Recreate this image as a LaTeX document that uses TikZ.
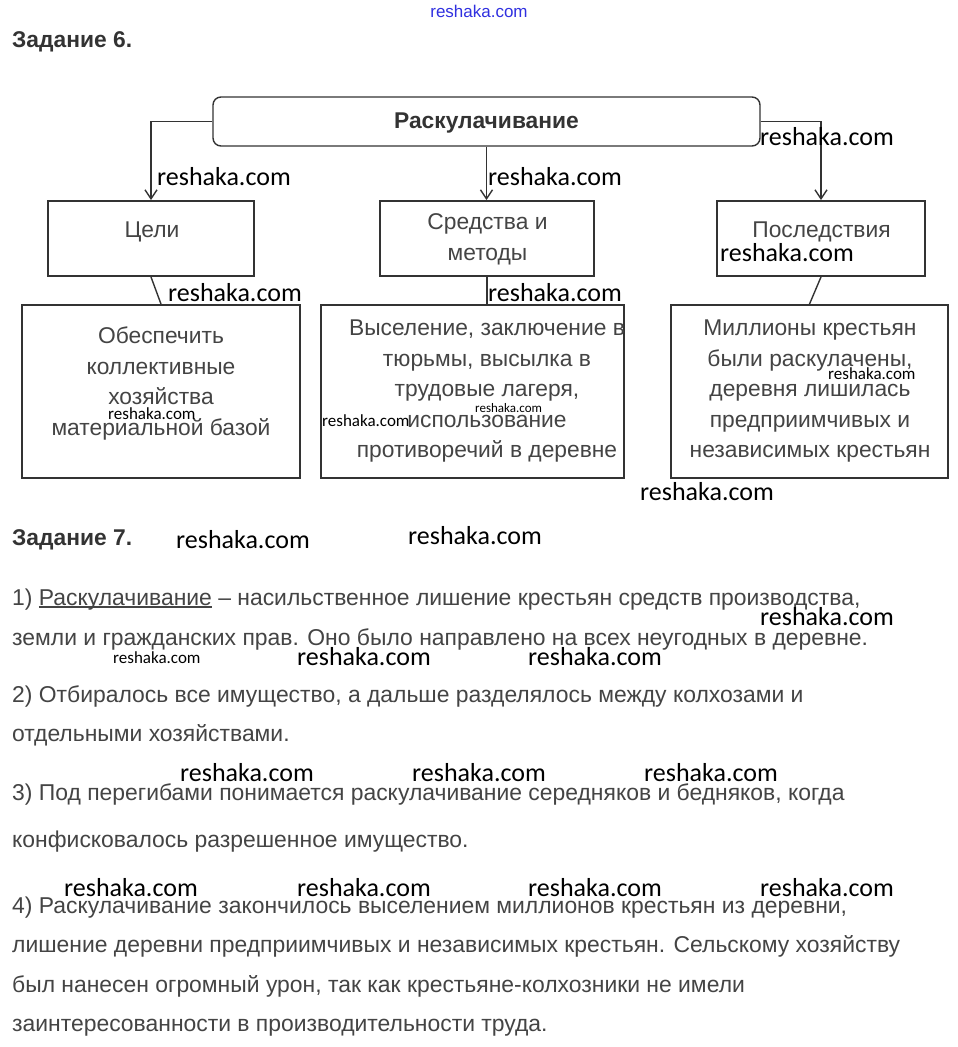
\documentclass[tikz,border=0pt]{standalone}
\usepackage{fontspec}
\setmainfont{Liberation Sans}
\newfontfamily\wmfont{Carlito}
\newfontfamily\topwmfont{Liberation Sans}
\usetikzlibrary{arrows.meta}
\definecolor{txtc}{HTML}{444444}
\definecolor{headc}{HTML}{333333}
\definecolor{linec}{HTML}{333333}
\definecolor{wmblue}{HTML}{3030E0}
\newcommand\myul[1]{\leavevmode\setbox0\hbox{#1}\rlap{\rule[-2.6pt]{\wd0}{1.2pt}}\box0\relax}
\begin{document}
\begin{tikzpicture}[x=1pt,y=-1pt,
  rbox/.style={draw=linec, line width=1.4pt, rounded corners=8pt, inner sep=0pt},
  tbox/.style={draw=linec, line width=1.9pt, inner sep=0pt},
  conn/.style={draw=linec, line width=1.4pt},
  arr/.style={conn, -{Straight Barb[length=9pt,width=12pt,line width=1.4pt]}},
  lbl/.style={text=txtc, font=\fontsize{22.8}{30.5}\selectfont, inner sep=0pt, align=center, anchor=base},
  head/.style={text=headc, font=\fontsize{22.8}{26}\selectfont\bfseries, inner sep=0pt, anchor=base west},
  para/.style={text=txtc, font=\fontsize{22.9}{26}\selectfont, inner sep=0pt, anchor=base west},
  wm/.style={text=black, font=\wmfont\fontsize{26}{30}\selectfont, inner sep=0pt, anchor=base west},
  wms/.style={text=black, font=\wmfont\fontsize{17}{20}\selectfont, inner sep=0pt, anchor=base west},
  wmt/.style={text=black, font=\wmfont\fontsize{13}{16}\selectfont, inner sep=0pt, anchor=base west}
]
\useasboundingbox[fill=white] (0,0) rectangle (958,1047);

% top blue watermark
\node[text=wmblue, font=\topwmfont\fontsize{17}{20}\selectfont, inner sep=0pt, anchor=base] (wm0) at (479,17) {reshaka.com};

% heading
\node[head] (h6) at (12,47) {Задание 6.};

% top box
\node[rbox, minimum width=547pt, minimum height=49pt] (root) at (486.5,121.5) {};
\node[lbl, font=\fontsize{22.8}{30.5}\selectfont\bfseries, text=headc] (root-t) at (486.5,128) {Раскулачивание};

% second row
\node[tbox, minimum width=206pt, minimum height=75pt] (goals) at (151,238.5) {};
\node[tbox, minimum width=214pt, minimum height=75pt] (means) at (487,238.5) {};
\node[tbox, minimum width=208pt, minimum height=75pt] (cons) at (821,238.5) {};
\node[lbl] (goals-t) at (152,237) {Цели};
\node[lbl] (means-t) at (487.5,260) {Средства и\\методы};
\node[lbl] (cons-t) at (821.5,237) {Последствия};

% third row
\node[tbox, minimum width=278pt, minimum height=173pt] (d1) at (161,391.5) {};
\node[tbox, minimum width=303pt, minimum height=173pt] (d2) at (472.5,391.5) {};
\node[tbox, minimum width=277pt, minimum height=173pt] (d3) at (809.5,391.5) {};
\node[lbl] (d1-t) at (161,435) {Обеспечить\\коллективные\\хозяйства\\материальной базой};
\node[lbl] (d2-t) at (487,457.5) {Выселение, заключение в\\тюрьмы, высылка в\\трудовые лагеря,\\использование\\противоречий в деревне};
\node[lbl] (d3-t) at (810,457.5) {Миллионы крестьян\\были раскулачены,\\деревня лишилась\\предприимчивых и\\независимых крестьян};

% connectors
\draw[arr] (root.west) -| (goals.north);
\draw[arr] (root.south) -- (root.south |- means.north);
\draw[arr] (root.east) -| (cons.north);
\draw[conn] (goals.south) -- (d1.north);
\draw[conn] (means.south) -- (means.south |- d2.north);
\draw[conn] (cons.south) -- (d3.north);

% task 7
\node[head] (h7) at (12,545) {Задание 7.};
\node[para] (p1) at (12,605) {1) \myul{Раскулачивание} – насильственное лишение крестьян средств производства,};
\node[para] (p2) at (12,645) {земли и гражданских прав. Оно было направлено на всех неугодных в деревне.};
\node[para] (p3) at (12,702) {2) Отбиралось все имущество, а дальше разделялось между колхозами и};
\node[para] (p4) at (12,741) {отдельными хозяйствами.};
\node[para] (p5) at (12,800) {3) Под перегибами понимается раскулачивание середняков и бедняков, когда};
\node[para] (p6) at (12,847) {конфисковалось разрешенное имущество.};
\node[para] (p7) at (12,913) {4) Раскулачивание закончилось выселением миллионов крестьян из деревни,};
\node[para] (p8) at (12,952) {лишение деревни предприимчивых и независимых крестьян. Сельскому хозяйству};
\node[para] (p9) at (12,992) {был нанесен огромный урон, так как крестьяне-колхозники не имели};
\node[para] (p10) at (12,1031) {заинтересованности в производительности труда.};

% watermarks
\node[wm] (w1) at (760,145) {reshaka.com};
\node[wm] (w2) at (157,185) {reshaka.com};
\node[wm] (w3) at (488,185) {reshaka.com};
\node[wm] (w4) at (720,261) {reshaka.com};
\node[wm] (w5) at (168,301) {reshaka.com};
\node[wm] (w6) at (488,301) {reshaka.com};
\node[wms] (w7) at (108,419) {reshaka.com};
\node[wmt] (w8) at (475,412) {reshaka.com};
\node[wms] (w9) at (322,426) {reshaka.com};
\node[wms] (w10) at (828,379) {reshaka.com};
\node[wm] (w11) at (640,500) {reshaka.com};
\node[wm] (w12) at (176,548) {reshaka.com};
\node[wm] (w13) at (408,544) {reshaka.com};
\node[wm] (w14) at (760,625) {reshaka.com};
\node[wms] (w15) at (113,663) {reshaka.com};
\node[wm] (w16) at (297,665) {reshaka.com};
\node[wm] (w17) at (528,665) {reshaka.com};
\node[wm] (w18) at (180,781) {reshaka.com};
\node[wm] (w19) at (412,781) {reshaka.com};
\node[wm] (w20) at (644,781) {reshaka.com};
\node[wm] (w21) at (64,896) {reshaka.com};
\node[wm] (w22) at (297,896) {reshaka.com};
\node[wm] (w23) at (528,896) {reshaka.com};
\node[wm] (w24) at (760,896) {reshaka.com};
\end{tikzpicture}
\end{document}
